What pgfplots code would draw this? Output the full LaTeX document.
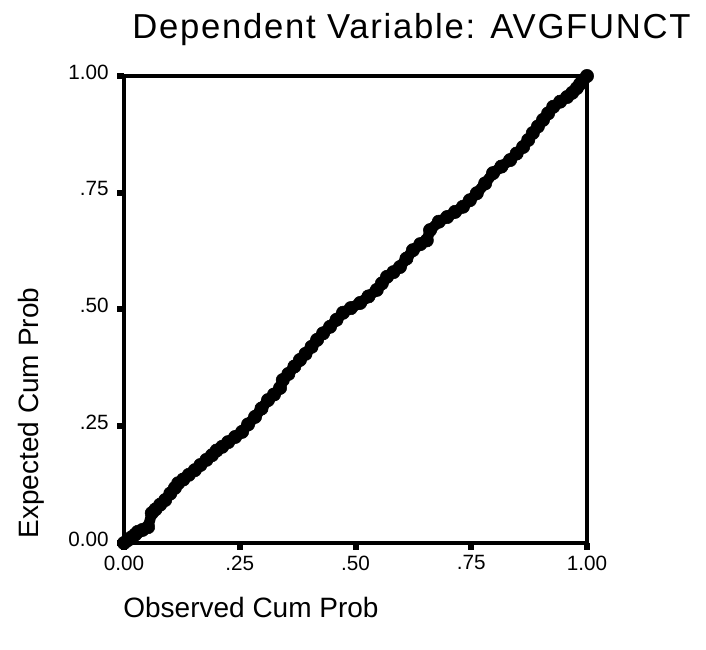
\documentclass[border=0pt]{standalone}
\usepackage{fontspec}
\setmainfont{Liberation Sans}
\newfontfamily\spaced[LetterSpace=5]{Liberation Sans}
\usepackage{pgfplots}
\pgfplotsset{compat=1.18}

% P-P plot, observed vs expected cumulative probability
\pgfplotstableread{
obs exp
0.000 0.000
0.008 0.006
0.016 0.012
0.024 0.018
0.030 0.024
0.040 0.028
0.052 0.034
0.060 0.064
0.068 0.072
0.078 0.082
0.089 0.092
0.100 0.106
0.110 0.118
0.117 0.128
0.128 0.136
0.140 0.146
0.153 0.156
0.165 0.167
0.178 0.178
0.190 0.188
0.200 0.198
0.212 0.206
0.225 0.216
0.240 0.227
0.255 0.238
0.268 0.254
0.283 0.270
0.297 0.288
0.311 0.306
0.324 0.318
0.337 0.332
0.343 0.349
0.355 0.362
0.368 0.378
0.380 0.392
0.392 0.405
0.405 0.420
0.417 0.435
0.430 0.449
0.445 0.463
0.459 0.478
0.473 0.493
0.490 0.503
0.510 0.514
0.528 0.528
0.546 0.542
0.557 0.556
0.568 0.570
0.582 0.580
0.596 0.591
0.610 0.609
0.624 0.627
0.640 0.640
0.654 0.648
0.661 0.670
0.680 0.688
0.698 0.698
0.715 0.709
0.732 0.720
0.747 0.734
0.762 0.749
0.780 0.770
0.797 0.792
0.815 0.806
0.834 0.820
0.848 0.834
0.862 0.848
0.873 0.863
0.883 0.878
0.894 0.892
0.905 0.906
0.916 0.920
0.927 0.934
0.942 0.945
0.957 0.955
0.968 0.964
0.978 0.974
0.985 0.983
0.991 0.991
1.000 1.000
}\ppdata

\begin{document}
\begin{tikzpicture}
\path[use as bounding box] (-93pt,-79.5pt) rectangle (436.5pt,407.25pt);
\begin{axis}[
    anchor=south west, at={(0,0)},
    scale only axis, width=347.25pt, height=350.25pt,
    xmin=0, xmax=1, ymin=0, ymax=1,
    clip=false,
    axis line style={line width=2.4pt},
    xtick={0,0.25,0.5,0.75,1}, xticklabels={0.00,.25,.50,.75,1.00},
    ytick={0,0.25,0.5,0.75,1}, yticklabels={0.00,.25,.50,.75,1.00},
    tick pos=left, tick align=outside, major tick length=5pt,
    tick style={line width=4.5pt, black},
    tick label style={font=\fontsize{15.5}{18}\selectfont},
    xticklabel style={yshift=-1pt},
    yticklabel style={yshift=3pt, xshift=-3pt},
    title={\spaced Dependent Variable: AVGFUNCT},
    title style={font=\fontsize{26}{30}\selectfont, at={(rel axis cs:0.621,1)}, anchor=base, yshift=21.75pt},
    xlabel={Observed Cum Prob},
    xlabel style={font=\fontsize{21}{24}\selectfont, at={(rel axis cs:0,0)}, anchor=base west, yshift=-55.5pt, xshift=-4pt},
    ylabel={Expected Cum Prob},
    ylabel style={font=\fontsize{21}{24}\selectfont, at={(rel axis cs:0,0)}, anchor=base west, yshift=63.75pt},
]
\addplot[black, line width=8pt, line join=round, line cap=round] table[x=obs, y=exp] {\ppdata};
\addplot[only marks, mark=*, mark size=5pt, black] table[x=obs, y=exp] {\ppdata};
\end{axis}
\end{tikzpicture}
\end{document}
